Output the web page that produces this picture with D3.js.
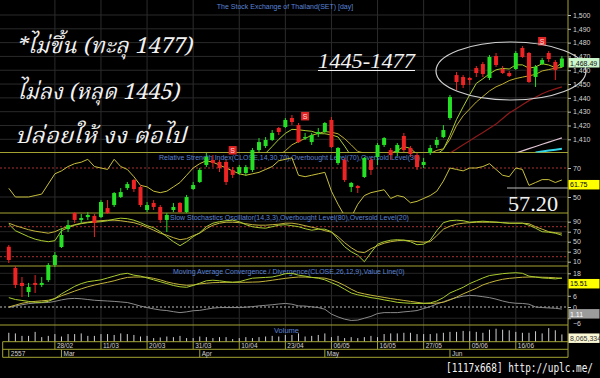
<!DOCTYPE html>
<html><head><meta charset="utf-8">
<script src="https://cdn.jsdelivr.net/npm/d3@7"></script>
<style>html,body{margin:0;padding:0;background:#000;}svg{display:block}</style>
</head><body>
<svg id="c" width="600" height="378"></svg>
<script>
// ---------------- DATA ----------------
const dates = ["19/02","20/02","21/02","24/02","25/02","26/02","27/02","28/02",
"03/03","04/03","05/03","06/03","07/03","10/03","11/03","12/03","13/03","14/03","17/03","18/03","19/03","20/03","21/03","24/03","25/03","26/03","27/03","28/03","31/03",
"01/04","02/04","03/04","04/04","08/04","09/04","10/04","11/04","16/04","17/04","18/04","21/04","22/04","23/04","24/04","25/04","28/04","29/04","30/04",
"02/05","06/05","07/05","08/05","09/05","12/05","14/05","15/05","16/05","19/05","20/05","21/05","22/05","23/05","26/05","27/05","28/05","29/05","30/05",
"02/06","03/06","04/06","05/06","06/06","09/06","10/06","11/06","12/06","13/06","16/06","17/06","18/06","19/06","20/06","23/06","24/06","25/06"];

const open  = [1332.2,1316.8,1306.0,1299.4,1306.0,1304.5,1308.1,1319.0,1332.0,1345.0,1356.6,1351.6,1353.7,1354.5,1353.7,1360.2,1362.4,1368.2,1374.7,1380.5,1375.5,1358.8,1363.9,1361.0,1351.6,1358.8,1363.9,1357.3,1374.0,1379.1,1391.4,1395.0,1393.6,1393.6,1387.8,1385.6,1385.6,1387.8,1402.2,1405.1,1409.5,1418.2,1418.9,1425.4,1420.3,1410.9,1408.0,1413.8,1415.3,1424.0,1392.8,1395.0,1375.5,1376.2,1382.7,1395.0,1397.2,1405.9,1402.2,1400.8,1412.4,1403.7,1398.6,1391.4,1400.1,1405.9,1411.6,1425.4,1456.5,1455.1,1454.4,1461.6,1464.5,1454.4,1470.3,1460.9,1458.0,1460.9,1476.1,1472.5,1455.1,1464.5,1472.5,1466.0,1462.4];
const high  = [1333.5,1318.2,1310.3,1306.0,1311.7,1310.3,1320.4,1328.4,1345.8,1351.6,1357.3,1355.9,1357.3,1355.9,1366.0,1366.0,1371.8,1374.7,1379.1,1381.2,1376.9,1364.6,1366.0,1362.4,1356.6,1363.9,1364.6,1369.7,1379.1,1389.2,1400.1,1398.6,1395.0,1395.0,1389.9,1391.4,1391.4,1403.7,1410.9,1411.6,1416.7,1418.9,1425.4,1427.6,1421.8,1414.6,1414.6,1418.2,1422.5,1426.1,1404.4,1396.5,1379.1,1376.9,1397.2,1396.5,1407.3,1411.6,1403.7,1407.3,1414.6,1405.1,1400.1,1396.5,1405.9,1411.6,1420.3,1442.1,1458.7,1456.5,1455.1,1463.1,1466.0,1471.0,1472.5,1463.1,1459.4,1473.9,1477.5,1473.2,1463.8,1468.9,1473.9,1467.4,1470.3];
const low   = [1320.4,1302.3,1295.8,1295.8,1298.7,1303.1,1306.7,1317.5,1331.3,1342.9,1349.4,1349.4,1351.6,1339.2,1353.0,1355.9,1361.0,1367.5,1373.3,1371.8,1361.0,1357.3,1358.8,1349.4,1342.9,1357.3,1356.6,1356.6,1373.3,1378.4,1389.9,1389.9,1386.3,1376.9,1382.0,1384.2,1383.4,1386.3,1400.8,1403.7,1408.8,1413.1,1418.2,1420.3,1407.3,1409.5,1405.9,1411.6,1414.6,1403.7,1391.4,1379.1,1371.8,1371.1,1382.0,1384.2,1391.4,1404.4,1395.0,1397.9,1400.8,1397.2,1387.8,1389.2,1398.6,1403.7,1410.9,1424.0,1445.7,1447.1,1449.3,1455.1,1455.1,1452.9,1462.4,1457.3,1455.1,1460.2,1468.9,1450.8,1447.9,1463.8,1466.0,1452.9,1461.6];
const close = [1322.6,1304.5,1303.8,1303.1,1304.5,1306.0,1319.0,1326.2,1340.7,1347.9,1351.6,1353.0,1355.2,1349.4,1364.6,1356.6,1371.1,1371.8,1377.6,1374.0,1362.4,1362.4,1361.0,1351.6,1355.2,1361.0,1357.3,1368.2,1376.9,1387.8,1397.2,1392.8,1389.2,1379.1,1384.2,1389.9,1389.9,1402.2,1408.0,1409.5,1414.6,1415.3,1424.0,1422.5,1408.0,1411.6,1413.1,1415.3,1421.8,1404.4,1403.7,1380.5,1378.4,1374.7,1396.5,1387.8,1405.9,1410.9,1398.6,1405.9,1402.2,1399.4,1389.9,1393.6,1403.7,1409.5,1416.7,1440.6,1451.5,1449.3,1452.9,1458.0,1457.3,1469.6,1463.8,1458.0,1455.8,1472.5,1469.6,1451.5,1462.4,1467.4,1468.1,1460.2,1468.49];

const maFast = [1336,1328,1318,1310,1307.7,1304.4,1307.3,1311.8,1319.3,1328.0,1337.1,1343.9,1349.7,1351.4,1354.8,1355.8,1359.4,1362.7,1368.3,1370.2,1371.4,1369.6,1367.5,1362.3,1358.5,1358.2,1357.2,1358.7,1363.7,1370.2,1377.5,1384.6,1388.8,1389.2,1388.5,1387.0,1386.5,1389.1,1394.8,1399.9,1404.8,1409.9,1414.3,1417.2,1416.9,1416.3,1415.8,1414.1,1414.0,1413.2,1411.7,1405.1,1397.8,1388.3,1386.8,1383.6,1388.7,1395.2,1399.9,1401.8,1404.7,1403.4,1399.2,1398.2,1397.8,1399.2,1402.7,1412.8,1424.4,1433.5,1442.2,1450.5,1453.8,1457.4,1460.3,1461.3,1460.9,1463.9,1463.9,1461.5,1462.4,1464.7,1463.8,1461.9,1465.3];
const maSlow = [1345,1340,1334,1328,1323,1319,1317,1316,1316,1317.9,1320.8,1325.6,1330.8,1335.4,1341.4,1346.5,1351.7,1356.2,1359.9,1362.5,1363.6,1364.5,1365.1,1365.3,1364.4,1364.8,1363.4,1363.1,1363.0,1364.4,1367.9,1370.9,1373.8,1376.5,1379.4,1382.3,1385.6,1389.0,1392.0,1394.2,1395.9,1398.2,1401.7,1406.0,1408.4,1410.6,1412.9,1414.2,1415.6,1415.1,1414.0,1410.5,1406.0,1401.2,1400.0,1397.7,1396.9,1396.5,1394.1,1394.3,1394.2,1396.1,1397.2,1399.1,1399.8,1402.0,1403.1,1410,1420,1427,1432,1437,1441,1445,1448,1450,1452.5,1454,1455,1456,1457,1459.5,1460.5,1461.5,1462];
const maLong = [null,null,null,null,null,null,null,null,null,null,null,null,null,null,null,null,null,null,null,null,null,null,null,null,null,null,null,null,null,null,null,null,null,null,null,null,null,null,null,null,null,null,null,null,null,null,null,null,null,null,null,null,null,null,null,null,null,null,null,null,1392,1393,1393.5,1394.5,1395.5,1397,1398.5,1400,1403,1406,1409,1412,1415,1418,1421,1425,1429,1432,1435,1438,1440.5,1443,1445,1446.5,1448];
const maPink = [null,null,null,null,null,null,null,null,null,null,null,null,null,null,null,null,null,null,null,null,null,null,null,null,null,null,null,null,null,null,null,null,null,null,null,null,null,null,null,null,null,null,null,null,null,null,null,null,null,null,null,null,null,null,null,null,null,null,null,null,null,null,null,null,null,null,null,null,null,null,null,null,null,null,null,null,1398,1400,1401.6,1403.2,1404.8,1406.4,1408,1409.5,1411];
const maCyan = [null,null,null,null,null,null,null,null,null,null,null,null,null,null,null,null,null,null,null,null,null,null,null,null,null,null,null,null,null,null,null,null,null,null,null,null,null,null,null,null,null,null,null,null,null,null,null,null,null,null,null,null,null,null,null,null,null,null,null,null,null,null,null,null,null,null,null,null,null,null,null,null,null,null,null,null,null,null,null,null,1400.5,1401.2,1401.9,1402.5,1403.2];

const rsi = [56,50,50,50,51,52,59,66,68,71,73,74,76,71,70,69,76,71,69,64,58,57,54,53,54,57,60,65,70,73,75,74,72,70,68,66,65,66,67,69,71,75,76,77,65,64,65,66,67,54,45,37,36,45,51,53,54,55,49,51,50,46,47,49,51,54,61,70,69,68,70,70,71,73,69,65,64,70,69,58,60,62,62,60,61.75];
const stochK = [85,72,66,60,55,52,50,52,72,78,83,86,88,89,90,92,95,97,96,93,88,82,78,70,60,50,42,50,60,68,80,87,90,92,93,90,84,80,78,77,80,83,84,82,80,76,73,75,75,70,55,40,30,23,10,28,45,50,53,54,53,50,44,45,53,72,88,92,93,92,89,90,91,90,89,88,87,87,87,83,77,70,69,67,63];
const stochD = [87,82,78,74,71,69,67,70,76,80,84,87,89,91,92,93,93,92,90,88,84,79,73,67,63,58,54,56,62,67,76,83,87,89,89,88,86,84,83,83,84,85,87,87,85,82,79,76,72,69,60,48,38,30,28,36,42,47,50,52,53,52,50,49,50,62,75,81,85,87,88,89,89,89,89,88,87,87,87,86,80,75,70,68,67];
const macdLine = [5,4,3.5,3,2.5,2.5,3,4.5,7,9,11,12.5,13.5,14,14.5,15.5,16.5,17.5,18,17,16.5,15.5,14.5,13.5,12.5,11.5,10.8,10.5,11.5,12.7,14,14.3,14,13.5,13.2,13.5,14.5,15.4,15.6,15.8,16,16.8,17.8,18,17,16.5,15.8,15.4,14.5,13,11.5,9.5,7.5,6.5,5.8,5,4.5,3.8,3.2,2.5,2.2,2,1.9,1.9,2.2,3.2,5,7.5,9,10.5,12.5,14,15.5,16.8,17.3,17.8,18.1,18.3,18,16.5,16,15.5,15.3,15,15.51];
const signalLine = [0,1,2,2.6,3,3.3,3.6,4.5,6,7.2,8.5,9.7,10.8,11.7,12.5,13.2,14,15,15.8,16,16,15.9,15.3,14.5,13.4,12.6,12,11.6,11.8,12.3,12.7,13,13.1,13.2,13.2,13.2,13.2,13.3,13.4,13.8,14.3,14.8,15.3,15.7,16,16,15.8,15.6,15.4,14.5,13.2,11.5,9.5,7.8,7,6.3,5.7,5.1,4.5,4,3.5,3,2.5,2,1.9,2.1,2.5,3.8,5.3,7,8.5,10,11.8,13,14,14.8,15.3,15.6,15.9,16,16,15.9,15.8,15.6,15.3];
const histLine = [-0.3,0.5,1.2,1.8,2.1,2.3,2.4,3,3.8,4.4,4.6,4.4,4,3.6,3.4,3.2,3,2.7,2.4,1.5,0.5,-0.3,-1,-1.6,-1.9,-2.5,-3,-2.6,-2,-1.8,-1.2,-0.6,-0.3,-0.3,-0.3,-0.3,-0.1,0.2,0.6,0.9,1.2,1.6,1.9,1.5,0.6,0.5,0.1,-0.3,-1.2,-3.8,-5.3,-6.5,-7.2,-7,-6,-5,-3.5,-3,-3,-3,-2.6,-2.3,-1.9,-0.8,0.2,1.6,2.8,4,5,5.8,6.2,6,5.5,5,4.2,3.2,2.4,2,1.9,1.5,0,-0.3,-0.5,-0.7,-1.11];
const volume = [9.96,9.25,6.4,6.4,11.0,5.0,6.4,8.5,5.7,8.5,8.5,9.25,6.4,6.4,8.5,8.5,7.5,9.25,8.5,7.5,5.7,6.4,3.9,4.6,5.7,5.0,6.4,3.9,3.9,5.7,5.0,3.9,5.0,5.0,2.8,3.9,5.0,3.9,5.0,5.7,6.4,5.7,7.5,7.5,9.25,5.7,6.4,7.5,9.25,5.0,6.4,3.9,5.0,3.9,5.0,6.4,5.0,8.5,9.25,9.25,9.96,9.96,8.5,8.5,8.5,9.25,9.96,11.0,11.0,12.1,11.7,11.0,9.96,13.5,14.6,13.5,12.8,11.0,9.96,9.96,11.7,9.25,15.3,12.8,8.065334];

const dateTicks = ["28/02","11/03","20/03","31/03","10/04","23/04","06/05","16/05","27/05","05/06","16/06"];
const monthStarts = ["19/02","03/03","01/04","02/05","02/06"];
const monthLabels = ["2557","Mar","Apr","May","Jun"];
const sellSignals = ["09/04","28/04","20/06"];
const priceTicks = [1410,1420,1430,1440,1450,1460,1470,1480,1490,1500];
const rsiTicks = [50,70];
const stochTicks = [10,30,50,70,90];
const macdTicks = [-6,0,6,18];
const macdGrid = [-6,6,12,18];
const lastLabels = ["1,468.49","61.75","15.51","1.11","8,065,334"];
const noteLines = ["*ไม่ขึ้น (ทะลุ 1477)","ไม่ลง (หลุด 1445)","ปล่อยให้ งง ต่อไป"];
const rangeNote = "1445-1477";
const rsiNote = "57.20";
const title = "The Stock Exchange of Thailand(SET) [day]";
const panelTitles = ["Relative Strength Index(CLOSE,14,30,70),Overbought Level(70),Oversold Level(30)",
 "Slow Stochastics Oscillator(14,3,3),Overbought Level(80),Oversold Level(20)",
 "Moving Average Convergence / Divergence(CLOSE,26,12,9),Value Line(0)","Volume"];
const watermark = "[1117x668] http://uplc.me/";

// ---------------- DRAW ----------------
const svg = d3.select("#c");
svg.append("rect").attr("width",600).attr("height",378).attr("fill","#000");
const AXX = 568;
const OLIVE = "#a3a332";
const x = d3.scalePoint().domain(dates).range([8.8, 561.9]);
const P = {main:[0,152.5], rsi:[152.5,213], stoch:[213,266], macd:[266,325], vol:[325,341.7]};
const yP = d3.scaleLinear().domain([1410,1500]).range([139.3,15]);
const yR = d3.scaleLinear().domain([50,70]).range([197,168]);
const yS = d3.scaleLinear().domain([0,100]).range([266.7,216.7]);
const yM = d3.scaleLinear().domain([0,18]).range([307,273.3]);
const yV = d3.scaleLinear().domain([0,16]).range([341.5,327.5]);

const defs = svg.append("defs");
Object.entries(P).forEach(([k,[a,b]])=>{
  defs.append("clipPath").attr("id","clip-"+k).append("rect").attr("x",0).attr("y",a).attr("width",AXX).attr("height",b-a);
});

const g = svg.append("g");
// grid
const grid = g.append("g");
grid.selectAll(".vg").data(dateTicks).join("line")
  .attr("x1",d=>x(d)).attr("x2",d=>x(d)).attr("y1",0).attr("y2",341.7)
  .attr("stroke","#2c2c2c").attr("stroke-width",1);
grid.selectAll(".pg").data(priceTicks).join("line")
  .attr("x1",0).attr("x2",AXX).attr("y1",d=>yP(d)).attr("y2",d=>yP(d))
  .attr("stroke","#2a2a2a");
grid.append("line").attr("x1",0).attr("x2",AXX).attr("y1",yR(50)).attr("y2",yR(50)).attr("stroke","#2a2a2a");
grid.append("line").attr("x1",0).attr("x2",AXX).attr("y1",yR(70)).attr("y2",yR(70)).attr("stroke","#a83030").attr("stroke-dasharray","2,2");
grid.selectAll(".sg").data(stochTicks).join("line")
  .attr("x1",0).attr("x2",AXX).attr("y1",d=>yS(d)).attr("y2",d=>yS(d)).attr("stroke","#262626");
[20,80].forEach(v=>grid.append("line").attr("x1",0).attr("x2",AXX).attr("y1",yS(v)).attr("y2",yS(v)).attr("stroke","#a83030").attr("stroke-dasharray","2,2"));
grid.selectAll(".mg").data(macdGrid).join("line")
  .attr("x1",0).attr("x2",AXX).attr("y1",d=>yM(d)).attr("y2",d=>yM(d)).attr("stroke","#262626");
grid.append("line").attr("x1",0).attr("x2",AXX).attr("y1",yM(0)).attr("y2",yM(0)).attr("stroke","#bbbbbb").attr("stroke-dasharray","2,2");

// panel borders
const borders = g.append("g").attr("stroke",OLIVE).attr("stroke-width",1);
[P.main[1],P.rsi[1],P.stoch[1],P.macd[1]].forEach(y=>borders.append("line").attr("x1",0).attr("x2",AXX).attr("y1",y).attr("y2",y));
[341.7,349.3,357.3].forEach(y=>borders.append("line").attr("x1",2.7).attr("x2",AXX).attr("y1",y).attr("y2",y));
borders.append("line").attr("x1",AXX).attr("x2",AXX).attr("y1",0).attr("y2",357.3);
borders.append("line").attr("x1",2.7).attr("x2",2.7).attr("y1",341.7).attr("y2",357.3);

// date rows
const dr = g.append("g");
dr.selectAll(".dt").data(dateTicks).join("line").attr("x1",d=>x(d)).attr("x2",d=>x(d)).attr("y1",341.7).attr("y2",349.3).attr("stroke",OLIVE);
dr.selectAll(".dl").data(dateTicks).join("text").attr("x",d=>x(d)+2).attr("y",348).text(d=>d)
  .attr("fill","#d0d0d0").attr("font-size","6.5px").attr("font-family","Liberation Sans, Arial, sans-serif");
dr.selectAll(".mt").data(monthStarts).join("line").attr("x1",d=>x(d)).attr("x2",d=>x(d)).attr("y1",349.3).attr("y2",357.3).attr("stroke",OLIVE);
dr.selectAll(".ml").data(monthStarts).join("text").attr("x",d=>x(d)+2).attr("y",356).text((d,i)=>monthLabels[i])
  .attr("fill","#d0d0d0").attr("font-size","6.5px").attr("font-family","Liberation Sans, Arial, sans-serif");

// titles
const tfont = "Liberation Sans, Arial, sans-serif";
g.append("text").attr("x",285).attr("y",8.5).attr("text-anchor","middle").text(title)
  .attr("fill","#5b84d6").attr("font-size","7px").attr("font-family",tfont);
[[159,159.5],[170,219.5],[173,273.5]].forEach(([tx,ty],i)=>{
  g.append("text").attr("x",tx).attr("y",ty).text(panelTitles[i]).attr("fill","#5b84d6").attr("font-size","7px").attr("font-family",tfont);
});
g.append("text").attr("x",274).attr("y",332.5).text(panelTitles[3]).attr("fill","#5b84d6").attr("font-size","7.5px").attr("font-family",tfont);

// volume bars
g.append("g").attr("clip-path","url(#clip-vol)").selectAll("line").data(dates).join("line")
  .attr("x1",d=>x(d)).attr("x2",d=>x(d)).attr("y1",yV(0)).attr("y2",(d,i)=>yV(volume[i]))
  .attr("stroke","#cfcfcf").attr("stroke-width",1);

// indicator lines
const idx = d3.range(dates.length);
function drawLine(arr, yScale, clip, color, w){
  const ln = d3.line().defined(i=>arr[i]!=null).x(i=>x(dates[i])).y(i=>yScale(arr[i]));
  g.append("path").attr("clip-path","url(#clip-"+clip+")").attr("d",ln(idx))
   .attr("fill","none").attr("stroke",color).attr("stroke-width",w||1).attr("stroke-linejoin","round");
}
drawLine(maLong, yP, "main", "#8e1a1a", 1.2);
drawLine(maPink, yP, "main", "#e0c4d4", 1.2);
drawLine(maCyan, yP, "main", "#32d4e6", 2);
drawLine(maSlow, yP, "main", "#bfae2c", 1);
drawLine(maFast, yP, "main", "#a9cc2e", 1);
drawLine(rsi, yR, "rsi", "#c8c03c", 1);
drawLine(stochD, yS, "stoch", "#c4b43a", 1);
drawLine(stochK, yS, "stoch", "#a9cc2e", 1);
drawLine(histLine, yM, "macd", "#8a8a8a", 1);
drawLine(signalLine, yM, "macd", "#c4b43a", 1);
drawLine(macdLine, yM, "macd", "#a9cc2e", 1);

// candles
const GREEN = "#26e026", RED = "#ee2424";
const cg = g.append("g");
cg.selectAll(".wick").data(idx).join("line")
  .attr("x1",i=>x(dates[i])).attr("x2",i=>x(dates[i]))
  .attr("y1",i=>yP(high[i])).attr("y2",i=>yP(low[i]))
  .attr("stroke",i=>close[i]>=open[i]?GREEN:RED).attr("stroke-width",1);
cg.selectAll(".body").data(idx).join("rect")
  .attr("x",i=>x(dates[i])-2).attr("width",4)
  .attr("y",i=>yP(Math.max(open[i],close[i])))
  .attr("height",i=>Math.max(1.2, Math.abs(yP(open[i])-yP(close[i]))))
  .attr("fill",i=>close[i]>=open[i]?GREEN:RED);

// sell markers
const sg = g.append("g");
sellSignals.forEach(d=>{
  const i = dates.indexOf(d);
  const yy = yP(high[i]) - 21;
  sg.append("rect").attr("x",x(d)-4).attr("y",yy).attr("width",8).attr("height",8.5).attr("fill","#e02626");
  sg.append("text").attr("x",x(d)).attr("y",yy+7).attr("text-anchor","middle").text("S")
    .attr("fill","#ffd8d8").attr("font-size","7px").attr("font-family",tfont);
});

// right axes
function axis(scale, ticks, fmt){
  const a = d3.axisRight(scale).tickValues(ticks).tickSize(3).tickPadding(2).tickFormat(fmt);
  const ag = g.append("g").attr("transform",`translate(${AXX},0)`).call(a);
  ag.select(".domain").remove();
  ag.selectAll("line").attr("stroke","#bbbbbb");
  ag.selectAll("text").attr("fill","#d4d4d4").attr("font-size","7px").attr("font-family",tfont);
  return ag;
}
axis(yP, priceTicks, d3.format(","));
axis(yR, rsiTicks, d3.format("d"));
axis(yS, stochTicks, d3.format("d"));
const am = axis(yM, macdTicks, d3.format("d"));
am.selectAll(".tick").filter(d=>d===-6).select("text").attr("dy","1.1em");

// annotations
const ann = g.append("g");
ann.append("ellipse").attr("cx",511).attr("cy",71).attr("rx",75).attr("ry",29)
  .attr("fill","none").attr("stroke","#d0d0d0").attr("stroke-width",1.2);
const thaiFont = "'Noto Serif Thai','Noto Sans Thai','Norasi','Loma','Garuda','Tlwg Typo','Liberation Serif',serif";
const notePos = [[16,53,176],[17,99,162],[15,143,171]];
noteLines.forEach((t,i)=>{
  ann.append("text").attr("x",notePos[i][0]).attr("y",notePos[i][1]).text(t)
    .attr("fill","#f2f2f2").attr("font-size","22px").attr("font-style","italic")
    .attr("font-family",thaiFont).attr("textLength",notePos[i][2]).attr("lengthAdjust","spacingAndGlyphs");
});
ann.append("text").attr("x",318).attr("y",68).text(rangeNote)
  .attr("fill","#f2f2f2").attr("font-size","22px").attr("font-style","italic")
  .attr("font-family","'Liberation Serif','DejaVu Serif',serif").attr("textLength",97).attr("lengthAdjust","spacingAndGlyphs");
ann.append("line").attr("x1",318).attr("x2",415).attr("y1",70.5).attr("y2",70.5).attr("stroke","#f2f2f2").attr("stroke-width",1);
ann.append("line").attr("x1",507).attr("x2",AXX).attr("y1",188).attr("y2",188).attr("stroke","#bdbdbd").attr("stroke-width",1.2);
ann.append("text").attr("x",508).attr("y",211).text(rsiNote)
  .attr("fill","#f2f2f2").attr("font-size","21px")
  .attr("font-family","'Liberation Serif','DejaVu Serif',serif").attr("textLength",50).attr("lengthAdjust","spacingAndGlyphs");

// last value boxes
const last = dates.length-1;
const boxes = [
  {y:yP(close[last])-0.5, fill:"#ccf7cc", tc:"#111"},
  {y:yR(rsi[last]), fill:"#ffff00", tc:"#000"},
  {y:yM(macdLine[last])+1, fill:"#ffff00", tc:"#000"},
  {y:yM(histLine[last]), fill:"#9c9c9c", tc:"#fff"},
  {y:yV(volume[last])-1, fill:"#fbf8d6", tc:"#333"}
];
boxes.forEach((b,i)=>{
  g.append("rect").attr("x",AXX+0.5).attr("y",b.y).attr("width",31).attr("height",9.5).attr("fill",b.fill);
  g.append("text").attr("x",AXX+2).attr("y",b.y+7.5).text(lastLabels[i]).attr("fill",b.tc)
    .attr("font-size","7px").attr("font-family",tfont);
});

// watermark (narrow mono font, stretched vertically)
g.append("text").attr("transform","translate(446,371.5) scale(1,1.3)").text(watermark)
  .attr("fill","#f5f5f5").attr("font-size","9.4px").attr("font-family","'DejaVu Sans Mono',monospace");
</script>
</body></html>
